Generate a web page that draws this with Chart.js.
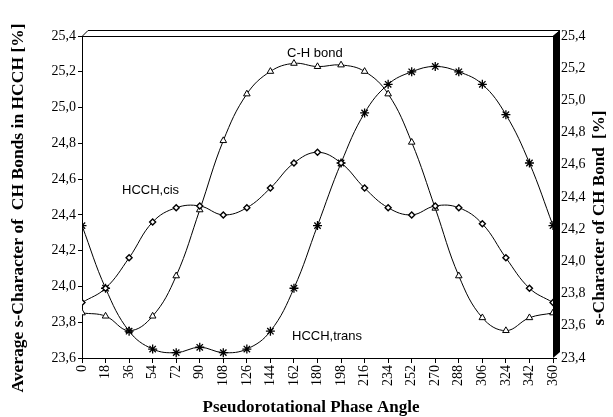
<!DOCTYPE html>
<html>
<head>
<meta charset="utf-8">
<script src="https://cdn.jsdelivr.net/npm/chart.js@4.4.0/dist/chart.umd.min.js"></script>
<style>
  html, body { margin: 0; padding: 0; background: #fff; }
</style>
</head>
<body>
<canvas id="chart" width="613" height="417"></canvas>
<script>
// phase angles (x) and the three series
const angles = [0, 18, 36, 54, 72, 90, 108, 126, 144, 162, 180, 198, 216, 234, 252, 270, 288, 306, 324, 342, 360];
const cisValues = [23.91, 23.99, 24.16, 24.36, 24.44, 24.45, 24.40, 24.44, 24.55, 24.69, 24.75, 24.69, 24.55, 24.44, 24.40, 24.45, 24.44, 24.35, 24.16, 23.99, 23.91];
const transValues = [24.34, 23.99, 23.75, 23.65, 23.63, 23.66, 23.63, 23.65, 23.75, 23.99, 24.34, 24.69, 24.97, 25.13, 25.20, 25.23, 25.20, 25.13, 24.96, 24.69, 24.34];
const chBondValues = [23.68, 23.66, 23.57, 23.66, 23.91, 24.32, 24.75, 25.04, 25.18, 25.23, 25.21, 25.22, 25.18, 25.04, 24.74, 24.33, 23.91, 23.65, 23.57, 23.65, 23.68];

const leftTitle = 'Average s-Character of  CH Bonds in HCCH [%]';
const rightTitle = 's-Character of CH Bond  [%]';
const xTitle = 'Pseudorotational Phase Angle';

const pts = vals => angles.map((a, i) => ({ x: a, y: vals[i] }));
const comma = v => Number(v).toFixed(1).replace('.', ',');

const serif = '"Liberation Serif", "Times New Roman", serif';
const sans = '"Liberation Sans", Arial, sans-serif';

// 3D-ish frame, labels in the plot and axis titles
const decorations = {
  id: 'decorations',
  afterDraw(chart) {
    const { ctx, chartArea: a } = chart;
    ctx.save();
    ctx.strokeStyle = '#000';
    ctx.lineWidth = 1;
    ctx.beginPath();
    ctx.moveTo(a.left, a.top + 0.5);
    ctx.lineTo(a.left + 6, a.top - 5.5);
    ctx.lineTo(a.right + 7, a.top - 5.5);
    ctx.lineTo(a.right, a.top + 0.5);
    ctx.closePath();
    ctx.stroke();

    ctx.fillStyle = '#000';
    ctx.beginPath();
    ctx.moveTo(a.right, a.top);
    ctx.lineTo(a.right + 7, a.top - 6);
    ctx.lineTo(a.right + 7, a.bottom - 6);
    ctx.lineTo(a.right, a.bottom);
    ctx.closePath();
    ctx.fill();

    ctx.font = '13px ' + sans;
    ctx.textBaseline = 'middle';
    ctx.textAlign = 'left';
    ctx.fillText('C-H bond', 287, 53);
    ctx.fillText('HCCH,cis', 122, 190);
    ctx.fillText('HCCH,trans', 292, 336);

    ctx.font = 'bold 17px ' + serif;
    ctx.textAlign = 'center';
    ctx.fillText(xTitle, 311, 408);

    ctx.save();
    ctx.translate(18, 208);
    ctx.rotate(-Math.PI / 2);
    ctx.font = 'bold 17.5px ' + serif;
    ctx.fillText(leftTitle, 0, 0);
    ctx.restore();

    ctx.save();
    ctx.translate(600, 218);
    ctx.rotate(-Math.PI / 2);
    ctx.fillText(rightTitle, 0, 0);
    ctx.restore();

    ctx.restore();
  }
};

new Chart(document.getElementById('chart'), {
  type: 'line',
  data: {
    datasets: [
      {
        label: 'HCCH,cis',
        data: pts(cisValues),
        yAxisID: 'y',
        borderColor: '#000',
        borderWidth: 1,
        pointStyle: 'rectRot',
        pointRadius: 3,
        pointBackgroundColor: '#fff',
        pointBorderColor: '#000',
        pointBorderWidth: 1.4,
        tension: 0.4
      },
      {
        label: 'HCCH,trans',
        data: pts(transValues),
        yAxisID: 'y',
        borderColor: '#000',
        borderWidth: 1,
        pointStyle: 'star',
        pointRadius: 4.5,
        pointBorderColor: '#000',
        pointBorderWidth: 1.3,
        tension: 0.4
      },
      {
        label: 'C-H bond',
        data: pts(chBondValues),
        yAxisID: 'y2',
        borderColor: '#000',
        borderWidth: 1,
        pointStyle: 'triangle',
        pointRadius: 3.8,
        pointBackgroundColor: '#fff',
        pointBorderColor: '#000',
        pointBorderWidth: 1,
        tension: 0.4
      }
    ]
  },
  options: {
    responsive: false,
    animation: false,
    layout: { padding: { top: 36 } },
    plugins: { legend: { display: false }, tooltip: { enabled: false } },
    scales: {
      x: {
        type: 'linear',
        min: 0,
        max: 360,
        afterFit: s => { s.height = 59; },
        afterBuildTicks: s => { s.ticks = angles.map(v => ({ value: v })); },
        border: { display: true, color: '#000', width: 1 },
        grid: { drawOnChartArea: false, drawTicks: true, tickLength: 5, color: '#000' },
        ticks: {
          minRotation: 90,
          maxRotation: 90,
          padding: 2,
          color: '#000',
          font: { family: serif, size: 14 },
          callback: v => String(v)
        }
      },
      y: {
        position: 'left',
        min: 23.6,
        max: 25.4,
        afterFit: s => { s.width = 82; },
        border: { display: true, color: '#000', width: 1 },
        grid: { drawOnChartArea: false, tickLength: 4, color: '#000' },
        ticks: {
          stepSize: 0.2,
          padding: 2,
          color: '#000',
          font: { family: serif, size: 14 },
          callback: comma
        }
      },
      y2: {
        position: 'right',
        min: 23.4,
        max: 25.4,
        afterFit: s => { s.width = 60; },
        border: { display: false },
        grid: { drawOnChartArea: false, tickLength: 4, color: '#000' },
        ticks: {
          stepSize: 0.2,
          padding: 4,
          color: '#000',
          font: { family: serif, size: 14 },
          callback: comma
        }
      }
    }
  },
  plugins: [decorations]
});
</script>
</body>
</html>
